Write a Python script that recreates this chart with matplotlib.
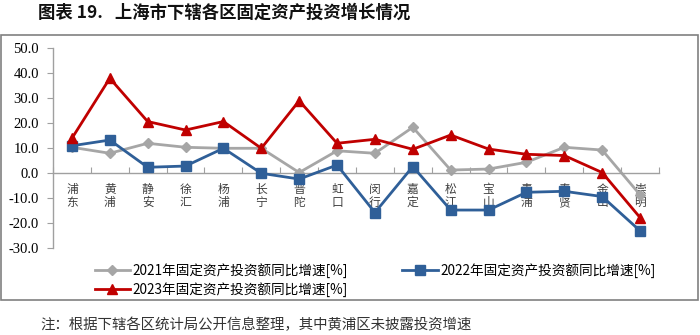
import matplotlib.pyplot as plt
from matplotlib.patches import Rectangle

plt.rcParams['font.family'] = ['Noto Sans CJK SC', 'DejaVu Sans']

districts = ["浦东", "黄浦", "静安", "徐汇", "杨浦", "长宁", "普陀", "虹口",
             "闵行", "嘉定", "松江", "宝山", "青浦", "奉贤", "金山", "崇明"]
g2021 = [10.4, 8.0, 12.0, 10.4, 10.0, 10.0, 0.3, 9.0,
         8.0, 18.4, 1.3, 1.7, 4.4, 10.4, 9.3, -8.6]
g2022 = [11.0, 13.3, 2.4, 2.9, 10.0, 0.0, -2.3, 3.3,
         -15.7, 2.7, -14.7, -14.7, -7.6, -7.2, -9.3, -23.0]
g2023 = [14.0, 38.0, 20.7, 17.3, 20.7, 10.0, 29.0, 12.0,
         13.6, 9.6, 15.3, 9.7, 7.6, 7.1, 0.3, -17.7]
yticks = [50, 40, 30, 20, 10, 0, -10, -20, -30]

c21, c22, c23 = "#A6A6A6", "#2F5F98", "#C00000"
serif = ['Liberation Serif', 'DejaVu Serif']

fig = plt.figure(figsize=(7, 3.35), dpi=100)
ax = fig.add_axes([0.0757, 0.2588, 0.8657, 0.5971])

x = range(len(districts))
l21, = ax.plot(x, g2021, color=c21, lw=2.0, marker="D", ms=5, zorder=2)
l22, = ax.plot(x, g2022, color=c22, lw=2.0, marker="s", ms=7, zorder=3)
l23, = ax.plot(x, g2023, color=c23, lw=2.0, marker="^", ms=7, zorder=4)

ax.set_xlim(-0.5, len(districts) - 0.5)
ax.set_ylim(-30, 50)
ax.set_yticks(yticks)
ax.set_yticklabels([f"{v:.1f}" for v in yticks], family=serif, fontsize=10.5)

# x axis sits on zero, boundary ticks as major, labels on minor
ax.spines['bottom'].set_position(('data', 0))
ax.set_xticks([i - 0.5 for i in range(len(districts) + 1)])
ax.set_xticklabels([])
ax.set_xticks(list(x), minor=True)
ax.set_xticklabels(["\n".join(d) for d in districts], minor=True,
                   fontsize=8.5, color="#404040", linespacing=1.0)
ax.tick_params(axis='x', which='major', length=4, color="#A0A0A0", direction='in')
ax.tick_params(axis='x', which='minor', length=0, pad=7)
ax.tick_params(axis='y', length=4, color="#A0A0A0", pad=6)

for s in ['top', 'right']:
    ax.spines[s].set_visible(False)
for s in ['left', 'bottom']:
    ax.spines[s].set_color("#A0A0A0")
    ax.spines[s].set_linewidth(1.0)

handles = [l21, l23, l22]
labels = ["2021年固定资产投资额同比增速[%]", "2023年固定资产投资额同比增速[%]",
          "2022年固定资产投资额同比增速[%]"]
fig.legend(handles, labels, ncol=2, loc='upper left', bbox_to_anchor=(0.135, 0.215),
           frameon=False, fontsize=9.8, handlelength=2.6, handletextpad=0.2,
           columnspacing=4.0, labelspacing=0.3, borderaxespad=0, borderpad=0)

# chart frame
fig.patches.append(Rectangle((0.002, 0.105), 0.995, 0.79, transform=fig.transFigure,
                             fill=False, edgecolor="#808080", lw=1.2))

fig.text(0.055, 0.962, "图表 19.   上海市下辖各区固定资产投资增长情况",
         fontsize=12.5, fontweight='bold', va='center', ha='left', color="#111111")
fig.text(0.057, 0.03, "注：根据下辖各区统计局公开信息整理，其中黄浦区未披露投资增速",
         fontsize=10.4, va='center', ha='left', color="#333333")

fig.savefig("out.png", dpi=100)
